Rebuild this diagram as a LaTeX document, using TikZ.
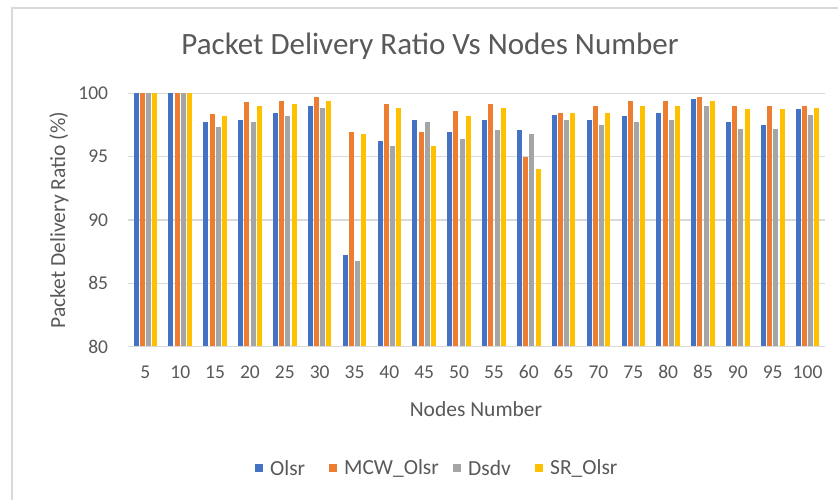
\documentclass[tikz,border=0pt]{standalone}
\usepackage{fontspec}
\setmainfont{Carlito}
\usetikzlibrary{positioning}

\definecolor{olsrc}{HTML}{4472C4}
\definecolor{mcwc}{HTML}{ED7D31}
\definecolor{dsdvc}{HTML}{A5A5A5}
\definecolor{src}{HTML}{FFC000}
\definecolor{txtc}{HTML}{595959}
\definecolor{linec}{HTML}{D9D9D9}

% one bar: colour, centre x, value
\newcommand{\pdrbar}[3]{\fill[#1] ({#2-2.5},346.7) rectangle ({#2+2.5},{346.7-(#3-80)*12.67});}

\tikzset{
  frame/.style={draw=linec, line width=1.2},
  gridline/.style={draw=linec, line width=1.2},
  ticklab/.style={inner sep=0.75pt, text=txtc, font=\fontsize{19.5}{19.5}\selectfont},
  axtitle/.style={inner sep=0.75pt, text=txtc, font=\fontsize{21.5}{21.5}\selectfont},
  charttitle/.style={inner sep=0.75pt, text=txtc, font=\fontsize{31}{31}\selectfont},
  legkey/.style={minimum size=8, inner sep=0pt},
  leglab/.style={inner sep=0.75pt, text=txtc, font=\fontsize{21.5}{21.5}\selectfont},
}

\begin{document}
\begin{tikzpicture}[x=1pt,y=1pt,yscale=-1]
\path[use as bounding box, fill=white] (0,0) rectangle (838,500);

% chart area frame
\draw[frame] (12,500) -- (12,8) -- (838,8);

% grid and value axis
\foreach \v in {80,85,...,100}{
  \draw[gridline] (128,{346.7-(\v-80)*12.67}) -- (825,{346.7-(\v-80)*12.67});
  \node[ticklab, anchor=east] (t\v) at (109,{346.7-(\v-80)*12.67}) {\v};
}

% bars: nodes / Olsr / MCW_Olsr / Dsdv / SR_Olsr
\foreach \n/\a/\b/\c/\d [count=\i from 0] in {
  5/100/100/100/100, 10/100/100/100/100, 15/97.76/98.34/97.34/98.18,
  20/97.9/99.29/97.76/99.0, 25/98.45/99.42/98.18/99.13, 30/99.0/99.68/98.87/99.42,
  35/87.2/96.92/86.79/96.79, 40/96.26/99.13/95.84/98.87, 45/97.9/96.92/97.76/95.84,
  50/96.92/98.58/96.39/98.18, 55/97.9/99.13/97.08/98.87, 60/97.08/95.0/96.82/94.05,
  65/98.32/98.45/97.9/98.45, 70/97.9/99.0/97.5/98.45, 75/98.18/99.42/97.76/99.0,
  80/98.45/99.42/97.9/99.0, 85/99.55/99.68/99.0/99.42, 90/97.76/99.0/97.21/98.74,
  95/97.5/99.0/97.21/98.74, 100/98.74/99.0/98.32/98.87}{
  \pgfmathsetmacro\cx{145.4+34.85*\i}
  \pdrbar{olsrc}{\cx-9.3}{\a}
  \pdrbar{mcwc}{\cx-3.1}{\b}
  \pdrbar{dsdvc}{\cx+3.1}{\c}
  \pdrbar{src}{\cx+9.3}{\d}
  \node[ticklab] (n\n) at (\cx,372) {\n};
}
\draw[gridline] (128,346.7) -- (825,346.7);

% titles
\node[charttitle] (title) at (430,46) {Packet Delivery Ratio Vs Nodes Number};
\node[axtitle, rotate=90] (ytitle) at (59,220) {Packet Delivery Ratio (\%)};
\node[axtitle] (xtitle) at (476,409) {Nodes Number};

% legend
\node[legkey, fill=olsrc] (k1) at (259,468) {};
\node[leglab, right=6pt of k1] (l1) {Olsr};
\node[legkey, fill=mcwc] (k2) at (333,468) {};
\node[leglab, right=6pt of k2] (l2) {MCW\_Olsr};
\node[legkey, fill=dsdvc] (k3) at (457,468) {};
\node[leglab, right=6pt of k3] (l3) {Dsdv};
\node[legkey, fill=src] (k4) at (539,468) {};
\node[leglab, right=6pt of k4] (l4) {SR\_Olsr};

\end{tikzpicture}
\end{document}
